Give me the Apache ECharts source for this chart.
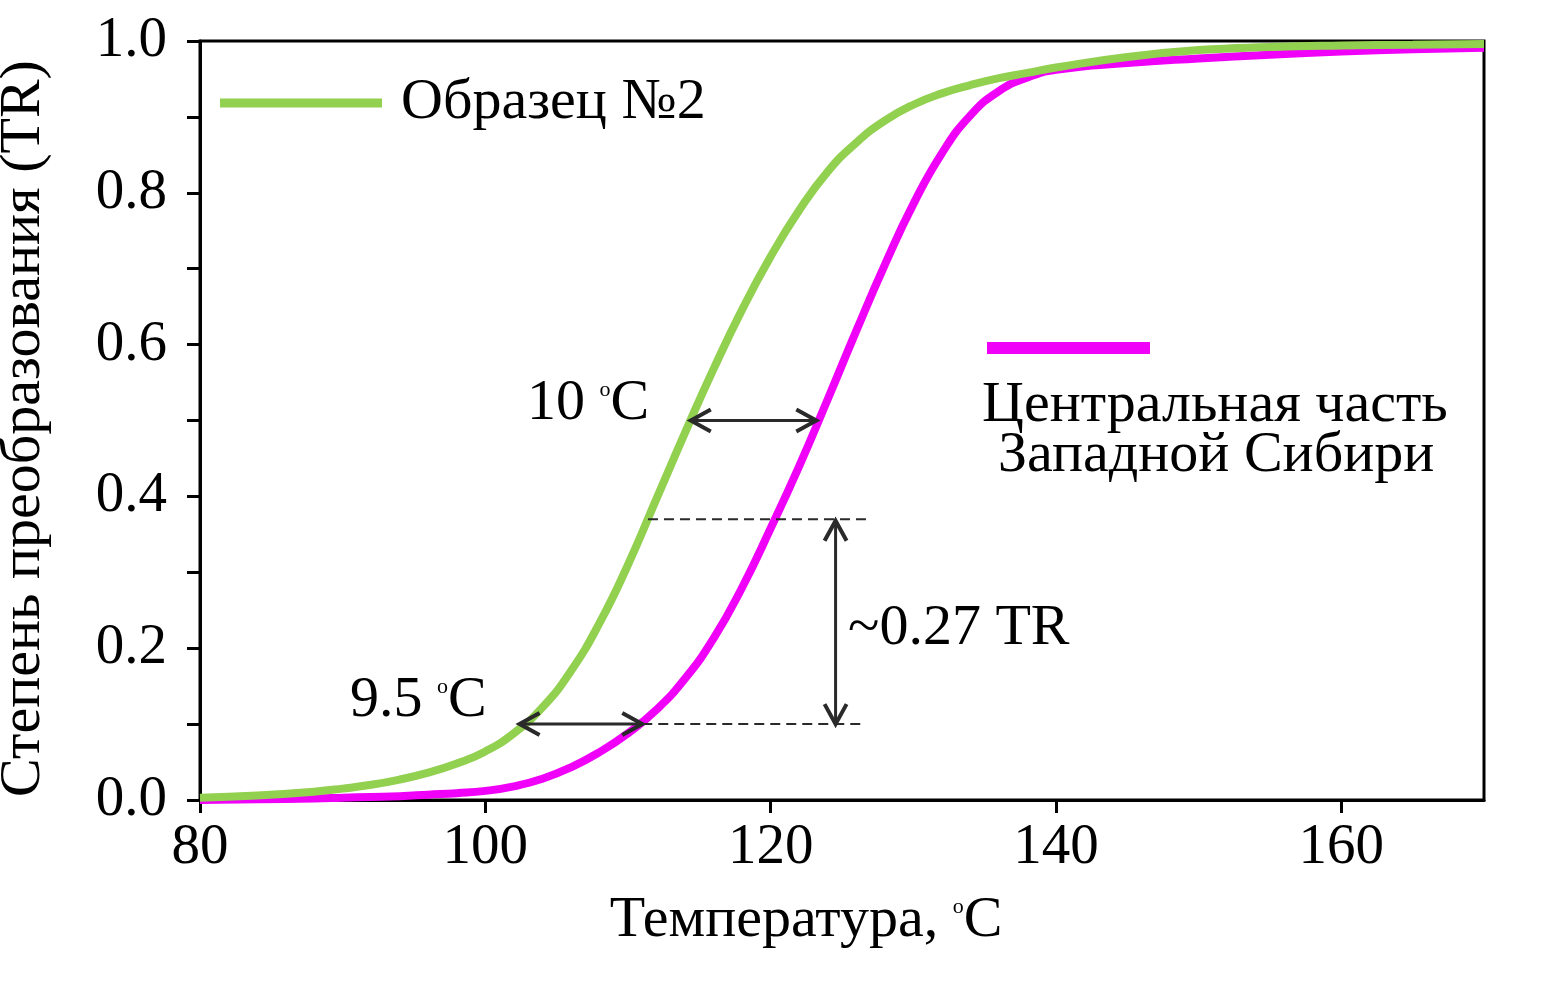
<!DOCTYPE html>
<html>
<head>
<meta charset="utf-8">
<script src="https://cdn.jsdelivr.net/npm/echarts@6/dist/echarts.min.js"></script>
<style>
html,body{margin:0;padding:0;background:#fff;}
#chart{width:1555px;height:982px;}
</style>
</head>
<body>
<div id="chart"></div>
<script>
// ---- data ----
const temps = [80,84,88,90,92,94,96,98,100,102,104,106,108,110,112,114,116,118,120,122,124,126,128,130,132,134,136,138,140,145,150,155,160,165,170];
const sample2TR = [0.003,0.006,0.011,0.015,0.020,0.027,0.036,0.048,0.064,0.088,0.122,0.170,0.233,0.31,0.397,0.484,0.568,0.646,0.716,0.777,0.828,0.866,0.895,0.916,0.931,0.942,0.951,0.958,0.965,0.979,0.988,0.992,0.994,0.995,0.996];
const westSiberiaTR = [0.0,0.001,0.002,0.003,0.004,0.005,0.007,0.009,0.012,0.018,0.028,0.043,0.063,0.088,0.119,0.16,0.213,0.28,0.358,0.44,0.528,0.618,0.705,0.785,0.852,0.902,0.934,0.952,0.962,0.971,0.977,0.982,0.986,0.989,0.991];
const xTicks = [80,100,120,140,160];
const yTickLabels = ['0.0','0.2','0.4','0.6','0.8','1.0'];
const seriesNames = ['Образец №2','Центральная часть Западной Сибири'];
// annotation segments: [x1, y1, x2, y2, kind] kind 0 = double arrow, 1 = dashed guide
const annotations = [
  [114.4, 0.5, 123.2, 0.5, 0],
  [102.4, 0.1, 111.0, 0.1, 0],
  [124.55, 0.368, 124.55, 0.1, 0],
  [111.4, 0.37, 126.7, 0.37, 1],
  [111.0, 0.1, 126.7, 0.1, 1]
];

const FONT = "'Liberation Serif','Times New Roman',serif";
const chart = echarts.init(document.getElementById('chart'), null, {renderer:'canvas'});

function zip(xs, ys){ return xs.map((x,i)=>[x, ys[i]]); }

const DARK = '#2a2a2a';
function renderAnno(params, api){
  const p1 = api.coord([api.value(0), api.value(1)]);
  const p2 = api.coord([api.value(2), api.value(3)]);
  const kind = api.value(4);
  if (kind === 1) {
    return {type:'line', shape:{x1:p1[0],y1:p1[1],x2:p2[0],y2:p2[1]},
      style:{stroke:DARK, lineWidth:2, lineDash:[10,6]}};
  }
  const dx = p2[0]-p1[0], dy = p2[1]-p1[1];
  const len = Math.sqrt(dx*dx+dy*dy);
  const ux = dx/len, uy = dy/len, nx = -uy, ny = ux;
  const L = 20, W = 11;
  function head(tip, s){
    return {type:'polyline', shape:{points:[
      [tip[0]-s*ux*L+nx*W, tip[1]-s*uy*L+ny*W], tip,
      [tip[0]-s*ux*L-nx*W, tip[1]-s*uy*L-ny*W]]},
      style:{stroke:DARK, lineWidth:4, fill:null}};
  }
  return {type:'group', children:[
    {type:'line', shape:{x1:p1[0],y1:p1[1],x2:p2[0],y2:p2[1]}, style:{stroke:DARK, lineWidth:3}},
    head(p1, -1), head(p2, 1)
  ]};
}

const richDeg = {o:{fontFamily:FONT, fontSize:22, verticalAlign:'top', padding:[4,0,0,0], color:'#000', fill:'#000'}};
function annoText(left, top, txt){
  return {type:'text', left:left, top:top, style:{text:txt, font:'58px '+FONT, fill:'#000', rich:richDeg}};
}

const option = {
  backgroundColor:'#fff',
  animation:false,
  grid:{left:200, right:71, top:41, bottom:182, outerBoundsMode:'none', containLabel:false,
    show:true, borderColor:'#000', borderWidth:3, backgroundColor:'transparent'},
  xAxis:{
    type:'value', min:80, max:170, interval:20,
    name:'Температура, {o|o}C', nameLocation:'middle', nameGap:92,
    nameTextStyle:{fontFamily:FONT, fontSize:58, color:'#000', padding:[0,72,0,0], rich:richDeg},
    axisLine:{show:true, lineStyle:{color:'#000', width:3}},
    axisTick:{show:true, length:13, lineStyle:{color:'#000', width:3}, customValues: xTicks},
    axisLabel:{fontFamily:FONT, fontSize:57, color:'#000', margin:20,
      customValues: xTicks, formatter: v => String(v)},
    splitLine:{show:false}
  },
  yAxis:{
    type:'value', min:0, max:1, interval:0.1,
    name:'Степень преобразования (TR)', nameLocation:'middle', nameGap:147,
    nameTextStyle:{fontFamily:FONT, fontSize:58, color:'#000', padding:[0,16,0,0]},
    axisLine:{show:true, lineStyle:{color:'#000', width:3}},
    axisTick:{show:true, length:13, lineStyle:{color:'#000', width:3}},
    axisLabel:{fontFamily:FONT, fontSize:57, color:'#000', margin:33,
      formatter: v => { const s = v.toFixed(1); return yTickLabels.indexOf(s) >= 0 ? s : ''; }},
    splitLine:{show:false}
  },
  legend:[
    {data:[seriesNames[0]], left:215, top:69, orient:'vertical', icon:'rect', itemWidth:162, itemHeight:9,
      textStyle:{fontFamily:FONT, fontSize:58, color:'#000', padding:[0,0,0,14]}, selectedMode:false},
    {data:[seriesNames[1]], left:982, top:337, icon:'rect', itemWidth:163, itemHeight:12,
      formatter: () => '', textStyle:{fontSize:1}, selectedMode:false}
  ],
  graphic:[
    {type:'text', left:982, top:377, style:{text:'Центральная часть', font:'58px '+FONT, fill:'#000'}},
    {type:'text', left:998, top:427, style:{text:'Западной Сибири', font:'58px '+FONT, fill:'#000'}},
    annoText(527, 375, '10 {o|o}C'),
    annoText(350, 672, '9.5 {o|o}C'),
    annoText(848, 600, '~0.27 TR')
  ],
  series:[
    {name:seriesNames[1], type:'line', data:zip(temps, westSiberiaTR), smooth:0.5, showSymbol:false,
      lineStyle:{color:'#F000F8', width:8}, itemStyle:{color:'#F000F8'}, z:3},
    {name:seriesNames[0], type:'line', data:zip(temps, sample2TR), smooth:0.5, showSymbol:false,
      lineStyle:{color:'#92D050', width:8}, itemStyle:{color:'#92D050'}, z:4},
    {type:'custom', data:annotations, renderItem:renderAnno, encode:{x:[0,2], y:[1,3]}, z:5, silent:true}
  ]
};
chart.setOption(option);
</script>
</body>
</html>
